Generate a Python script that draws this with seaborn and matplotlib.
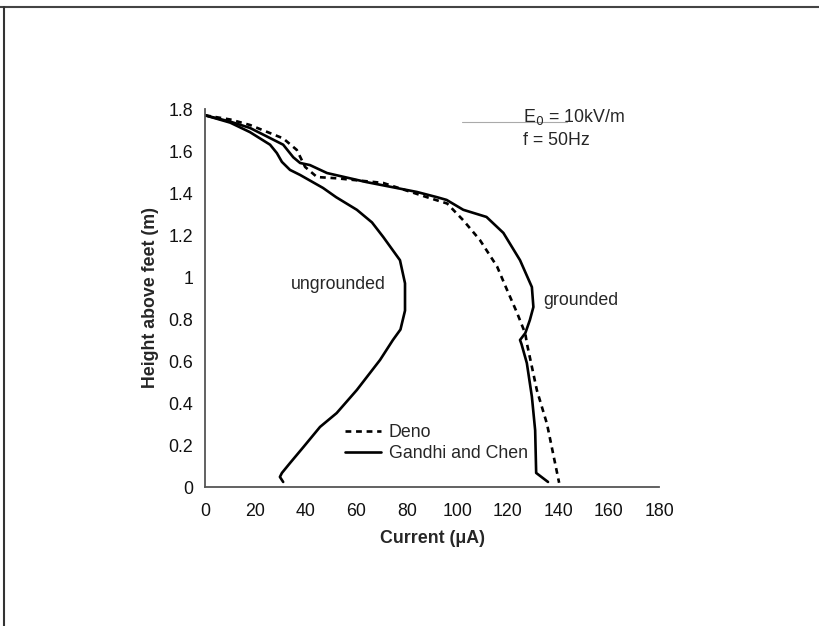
import matplotlib
matplotlib.use("Agg")
import matplotlib.pyplot as plt
import seaborn as sns
import pandas as pd
from matplotlib.lines import Line2D

# ---- data ----
ungrounded_current = [0, 10, 17.8, 25.8, 28.5, 30.5, 33.7, 37.7, 46.8, 52.0, 60.2, 66.2, 70.7, 77.3,
                      79.3, 79.3, 77.5, 74.5, 69.4, 60.2, 52.2, 45.6, 39.0, 33.7, 30.5, 29.7, 31.0]
ungrounded_height = [1.77, 1.735, 1.69, 1.63, 1.59, 1.548, 1.51, 1.486, 1.424, 1.38, 1.32, 1.26, 1.19,
                     1.08, 0.97, 0.84, 0.75, 0.70, 0.605, 0.462, 0.352, 0.286, 0.19, 0.114, 0.067,
                     0.048, 0.024]

grounded_current = [0, 10, 17.8, 31, 35, 37.7, 41.6, 48.4, 64, 84, 92, 95.8, 102.4, 111.6, 118.3,
                    124.9, 129.6, 130.2, 128.8, 127, 124.9, 125.5, 127.6, 129.6, 130.9, 131.3, 136]
grounded_height = [1.77, 1.74, 1.71, 1.63, 1.57, 1.543, 1.533, 1.495, 1.452, 1.405, 1.38, 1.367, 1.32,
                   1.286, 1.21, 1.08, 0.952, 0.857, 0.795, 0.733, 0.70, 0.68, 0.59, 0.43, 0.27, 0.067, 0.024]

deno_current = [0, 10, 17.8, 31, 36.4, 39.7, 44.4, 52.3, 70.6, 88, 96, 102.4, 109, 115.8, 119.7,
                123.7, 127, 127.6, 131.6, 135.6, 138, 140.4]
deno_height = [1.77, 1.75, 1.724, 1.66, 1.605, 1.524, 1.476, 1.47, 1.448, 1.38, 1.35, 1.27, 1.176,
               1.05, 0.94, 0.83, 0.73, 0.685, 0.46, 0.30, 0.16, 0.02]

x_ticks = [0, 20, 40, 60, 80, 100, 120, 140, 160, 180]
y_ticks = [0, 0.2, 0.4, 0.6, 0.8, 1.0, 1.2, 1.4, 1.6, 1.8]
y_tick_labels = ["0", "0.2", "0.4", "0.6", "0.8", "1", "1.2", "1.4", "1.6", "1.8"]

sns.set_style("white")
plt.rcParams["font.family"] = ["Liberation Sans", "DejaVu Sans"]

FS = 12.8
fig = plt.figure(figsize=(8.2, 6.26), dpi=100)
ax = fig.add_axes([205 / 820, 1 - 487 / 626, 454 / 820, 378 / 626])

lw = 1.9
sns.lineplot(x=ungrounded_current, y=ungrounded_height, sort=False, estimator=None,
             color="black", lw=lw, ax=ax)
sns.lineplot(x=grounded_current, y=grounded_height, sort=False, estimator=None,
             color="black", lw=lw, ax=ax)
sns.lineplot(x=deno_current, y=deno_height, sort=False, estimator=None,
             color="black", lw=lw, ax=ax, linestyle=(0, (2.2, 1.8)))

ax.set_xlim(0, 180)
ax.set_ylim(0, 1.8)
ax.set_xticks(x_ticks)
ax.set_yticks(y_ticks)
ax.set_yticklabels(y_tick_labels)
ax.tick_params(direction="inout", length=7, width=1.2, color="#555555",
               labelsize=FS, labelcolor="#111111", pad=5)
ax.tick_params(axis="x", pad=8)
for s in ["top", "right"]:
    ax.spines[s].set_visible(False)
for s in ["left", "bottom"]:
    ax.spines[s].set_color("#555555")
    ax.spines[s].set_linewidth(1.3)

ax.set_xlabel("Current (\u03bcA)", fontsize=FS, fontweight="bold", labelpad=7)
ax.set_ylabel("Height above feet (m)", fontsize=FS, fontweight="bold", labelpad=7)

ax.text(52.7, 0.962, "ungrounded", fontsize=FS, ha="center", va="center")
ax.text(149, 0.886, "grounded", fontsize=FS, ha="center", va="center")
ax.plot([101.9, 143.5], [1.738, 1.738], color="#aaaaaa", lw=0.8)
ax.text(126.0, 1.764, "E$_0$ = 10kV/m", fontsize=FS, ha="left", va="center")
ax.text(126.0, 1.648, "f = 50Hz", fontsize=FS, ha="left", va="center")

handles = [Line2D([], [], color="black", lw=lw, linestyle=(0, (2.2, 1.8))),
           Line2D([], [], color="black", lw=lw)]
ax.legend(handles, ["Deno", "Gandhi and Chen"], loc="upper left",
          bbox_to_anchor=((345 - 205) / 454, (487 - 424) / 378), frameon=False,
          borderpad=0, borderaxespad=0, handlelength=2.0, handletextpad=0.45,
          labelspacing=0.25, fontsize=FS)

# scan frame lines
fig.add_artist(Line2D([0, 1], [1 - 6.5 / 626, 1 - 6.5 / 626], transform=fig.transFigure,
                      color="#444444", lw=1.5))
fig.add_artist(Line2D([4.5 / 820, 4.5 / 820], [0, 1 - 6.5 / 626], transform=fig.transFigure,
                      color="#333333", lw=1.5))

fig.savefig("out.png", dpi=100)
